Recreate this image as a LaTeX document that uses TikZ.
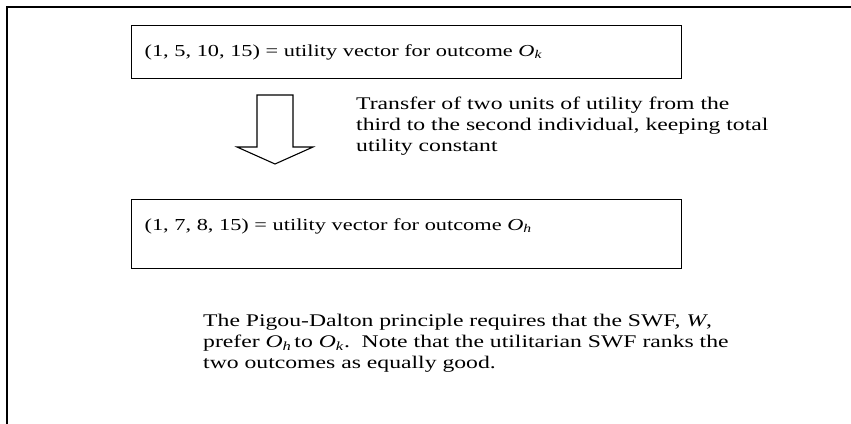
\documentclass[tikz,border=0pt]{standalone}
\usepackage{fontspec}
\setmainfont{Liberation Serif}[FakeStretch=1.33]
\usetikzlibrary{positioning}

\newcommand{\outc}[1]{\textit{O}\textsubscript{\textit{#1}}}

\tikzset{
  vecbox/.style={draw, line width=1.2pt, anchor=north west, minimum width=550pt,
    text width=524pt, align=left, inner xsep=12pt},
  note/.style={anchor=north west, inner sep=0pt, align=left,
    font=\fontsize{17.8}{21}\selectfont}
}

\begin{document}
\begin{tikzpicture}[x=1pt, y=-1pt, font=\fontsize{16.8}{20.8}\selectfont]
    \useasboundingbox (0,0) rectangle (851,423);
    \begin{scope}
      \clip (0,0) rectangle (851,423);
      \draw[line width=1.2pt] (7,7) rectangle (880,450);
    \end{scope}
    % the two utility vectors
    \node[vecbox, minimum height=53pt] (vk) at (131,25)
        {(1, 5, 10, 15) = utility vector for outcome \outc{k}};
    \node[vecbox, minimum height=69pt, text depth=20pt] (vh) at (131,199)
        {(1, 7, 8, 15) = utility vector for outcome \outc{h}};
    % hollow arrow
    \coordinate (top) at (275,95);
    \draw[line width=1.1pt] ([xshift=-18pt]top) -- ([xshift=18pt]top)
        -- ([xshift=18pt,yshift=-52pt]top) -- ([xshift=38pt,yshift=-52pt]top)
        -- ([yshift=-69pt]top) -- ([xshift=-38pt,yshift=-52pt]top)
        -- ([xshift=-18pt,yshift=-52pt]top) -- cycle;
    \node[note] (move) at (356,97)
        {Transfer of two units of utility from the\\
         third to the second individual, keeping total\\
         utility constant};
    \node[note] (pd) at (203,314)
        {The Pigou-Dalton principle requires that the SWF, \textit{W},\\
         prefer \outc{h}\,to \outc{k}.\ \ Note that the utilitarian SWF ranks the\\
         two outcomes as equally good.};
\end{tikzpicture}
\end{document}
